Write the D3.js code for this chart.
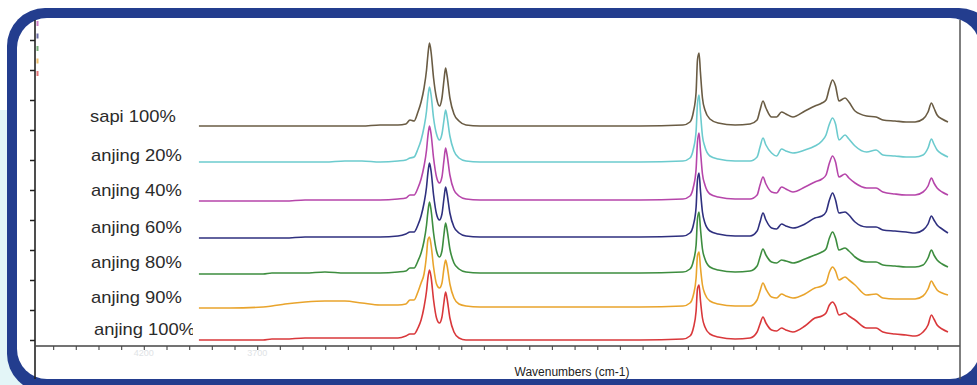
<!DOCTYPE html>
<html><head><meta charset="utf-8">
<script src="https://cdn.jsdelivr.net/npm/d3@7"></script>
<style>html,body{margin:0;padding:0;background:#fff;overflow:hidden}</style>
</head><body><svg id="c" width="977" height="385"></svg>
<script>
// ---- data (wavenumber in cm-1, absorbance offset in arbitrary units) ----
const wavenumbers = [3957, 3820, 3674, 3635, 3577, 3489, 3401, 3313, 3238, 3158, 3079,
  3044, 3026, 3008, 2991, 2977, 2964, 2953, 2947, 2940, 2933,
  2922, 2909, 2896, 2885, 2876, 2869, 2863, 2850, 2832, 2810,
  2779, 2717, 2408, 2012, 1822, 1791, 1776, 1764, 1758, 1751,
  1745, 1736, 1725, 1703, 1667, 1592, 1526, 1495, 1482, 1469,
  1456, 1431, 1409, 1387, 1368, 1337, 1284, 1240, 1209, 1191,
  1176, 1162, 1149, 1134, 1107, 1090, 1063, 1012, 970, 940,
  887, 838, 798, 763, 741, 726, 715, 701, 679, 653];

const seriesNames = ["sapi 100%", "anjing 20%", "anjing 40%", "anjing 60%", "anjing 80%", "anjing 90%", "anjing 100%"];

const sapi100 = [214, 214, 214, 214, 214, 214, 214, 214, 214, 215, 215,
  216, 220, 219, 228, 238, 252, 270, 285, 297, 288,
  262, 242, 234, 242, 260, 272, 265, 242, 226, 219,
  215, 214, 214, 214, 215, 218, 228, 248, 280, 287,
  268, 242, 230, 221, 217, 215, 216, 220, 230, 239,
  232, 223, 223, 228, 226, 223, 229, 234, 237, 240,
  252, 260, 254, 239, 242, 238, 229, 224, 223, 220,
  219, 218, 218, 221, 228, 237, 232, 225, 221, 218];
const anjing20 = [178, 178, 178, 178, 178, 178, 178, 179, 179, 178, 179,
  180, 182, 183, 191, 200, 213, 229, 243, 253, 245,
  222, 206, 200, 206, 220, 230, 224, 204, 189, 182,
  179, 178, 178, 178, 179, 182, 191, 209, 236, 245,
  228, 204, 193, 184, 181, 179, 179, 183, 193, 202,
  195, 187, 184, 191, 189, 187, 190, 194, 199, 205,
  216, 222, 216, 200, 205, 201, 194, 188, 190, 185,
  184, 183, 183, 185, 192, 201, 196, 190, 186, 183];
const anjing40 = [139, 139, 139, 139, 139, 140, 140, 140, 140, 140, 141,
  142, 145, 145, 152, 161, 174, 190, 204, 214, 206,
  182, 163, 157, 163, 180, 192, 186, 165, 150, 144,
  141, 140, 140, 140, 141, 144, 153, 171, 198, 207,
  190, 166, 155, 146, 143, 141, 141, 145, 155, 163,
  156, 148, 147, 153, 151, 148, 153, 158, 161, 165,
  177, 184, 178, 163, 166, 162, 157, 152, 152, 148,
  146, 145, 145, 148, 154, 162, 157, 152, 148, 145];
const anjing60 = [102, 102, 102, 102, 102, 103, 103, 103, 103, 103, 104,
  106, 108, 108, 115, 124, 137, 153, 167, 177, 169,
  145, 126, 120, 126, 142, 153, 147, 127, 113, 107,
  104, 103, 103, 103, 104, 107, 115, 133, 160, 167,
  150, 128, 117, 109, 106, 104, 104, 109, 118, 127,
  120, 112, 111, 116, 114, 112, 116, 122, 124, 128,
  140, 147, 140, 127, 128, 125, 118, 113, 113, 110,
  109, 108, 107, 110, 116, 124, 120, 115, 111, 107];
const anjing80 = [66, 66, 66, 67, 67, 67, 68, 67, 67, 67, 68,
  69, 72, 72, 79, 87, 99, 115, 128, 138, 130,
  107, 89, 83, 89, 106, 117, 111, 91, 77, 71,
  68, 67, 67, 67, 68, 71, 79, 95, 121, 128,
  112, 91, 81, 73, 70, 68, 69, 74, 83, 91,
  85, 78, 77, 80, 79, 77, 81, 85, 88, 91,
  102, 108, 102, 90, 92, 89, 83, 78, 78, 75,
  74, 73, 73, 75, 82, 90, 85, 80, 76, 73];
const anjing90 = [32, 32, 33, 34, 36, 38, 39, 39, 37, 35, 35,
  36, 40, 40, 48, 57, 66, 85, 100, 103, 95,
  73, 56, 52, 57, 72, 80, 75, 56, 42, 36,
  34, 33, 33, 33, 34, 37, 45, 62, 84, 88,
  73, 55, 46, 39, 36, 34, 34, 40, 49, 57,
  51, 43, 42, 46, 44, 42, 46, 52, 54, 57,
  68, 73, 69, 60, 63, 60, 55, 45, 46, 42,
  41, 41, 41, 44, 51, 59, 55, 50, 47, 45];
const anjing100 = [0, 0, 0, 1, 1, 2, 2, 2, 2, 2, 2,
  4, 6, 6, 12, 20, 33, 49, 62, 70, 63,
  40, 22, 17, 23, 38, 48, 42, 22, 8, 2,
  0, 0, 0, 0, 1, 4, 12, 29, 51, 55,
  40, 22, 13, 6, 3, 1, 2, 8, 16, 23,
  17, 10, 9, 12, 10, 8, 14, 22, 24, 27,
  35, 38, 34, 25, 27, 24, 20, 12, 12, 8,
  6, 5, 4, 8, 15, 25, 21, 15, 11, 8];

const seriesValues = [sapi100, anjing20, anjing40, anjing60, anjing80, anjing90, anjing100];
const yTickValues = [0, 30, 60, 90, 120, 150, 180, 210, 240, 270, 300];
const xTickValues = d3.range(4600, 699, -100);
const faintXLabels = [4200, 3700];
const axisTitle = "Wavenumbers (cm-1)";

// ---- styles ----
const colors = ["#6a5c44", "#6ccbce", "#b646aa", "#2f307f", "#3d8d3f", "#e9a42c", "#d9383b"];
const labelOffsets = [-4, -1, -5, -5, -6, -5, -5];

const svg = d3.select("#c");
const W = 977, H = 385;

// background & frame
svg.append("rect").attr("width", W).attr("height", H).attr("fill", "#ffffff");
svg.append("rect").attr("x", 0).attr("y", 110).attr("width", 12).attr("height", H - 110).attr("fill", "#e3f5f7");
svg.append("rect").attr("x", 0).attr("y", 360).attr("width", 60).attr("height", 25).attr("fill", "#e3f5f7");
svg.append("rect").attr("x", 7).attr("y", 8).attr("width", 990).attr("height", 384).attr("rx", 38).attr("fill", "#233d8e");
svg.append("rect").attr("x", 17).attr("y", 18).attr("width", 963).attr("height", 361).attr("rx", 30).attr("fill", "#ffffff");

const x = d3.scaleLinear().domain([4680, 600]).range([35, 960]);
const y = d3.scaleLinear().domain([-6, 320]).range([346, 20]);

// axes
const gx = svg.append("g").attr("transform", "translate(0,346)")
  .call(d3.axisBottom(x).tickValues(xTickValues).tickSize(4).tickFormat(""));
gx.select(".domain").remove();
gx.selectAll(".tick line").attr("stroke", "#555").attr("stroke-width", 1.2);

const gy = svg.append("g").attr("transform", "translate(35,0)")
  .call(d3.axisLeft(y).tickValues(yTickValues).tickSize(5).tickFormat(""));
gy.select(".domain").remove();
gy.selectAll(".tick line").attr("stroke", "#222").attr("stroke-width", 1.5);

// frame lines
svg.append("line").attr("x1", 35).attr("x2", 35).attr("y1", 20).attr("y2", 379).attr("stroke", "#222").attr("stroke-width", 1.6);
svg.append("line").attr("x1", 35).attr("x2", 960).attr("y1", 346).attr("y2", 346).attr("stroke", "#444").attr("stroke-width", 1.6);
svg.append("line").attr("x1", 960).attr("x2", 960).attr("y1", 20).attr("y2", 379).attr("stroke", "#555").attr("stroke-width", 1.5);

// faint original tick labels
svg.selectAll("text.faint").data(faintXLabels).join("text")
  .attr("class", "faint")
  .attr("x", d => x(d)).attr("y", 356)
  .attr("text-anchor", "middle")
  .attr("font-family", "Liberation Sans, Arial, sans-serif")
  .attr("font-size", 9).attr("fill", "#e0e3e6")
  .text(d => d);

// tiny legend remnants near top-left
[2, 3, 4, 5, 6].forEach((k, i) => {
  svg.append("rect").attr("x", 36.5).attr("y", 21 + i * 12.5).attr("width", 2).attr("height", 5)
    .attr("fill", colors[k]).attr("opacity", 0.7);
});

// spectra
const line = d3.line()
  .x((d, i) => x(wavenumbers[i]))
  .y(d => y(d))
  .curve(d3.curveMonotoneX);

svg.append("g").selectAll("path").data(seriesValues).join("path")
  .attr("d", d => line(d))
  .attr("fill", "none")
  .attr("stroke", (d, i) => colors[i])
  .attr("stroke-width", 1.6)
  .attr("stroke-linejoin", "round");

// labels
svg.append("defs").append("clipPath").attr("id", "lblclip")
  .append("rect").attr("x", 40).attr("y", 20).attr("width", 153).attr("height", 330);

const labelG = svg.append("g").attr("clip-path", "url(#lblclip)");
const lbl = labelG.selectAll("text").data(seriesNames).join("text")
  .attr("x", (d, i) => i === 0 ? 90 : (i === 6 ? 94 : 91))
  .attr("y", (d, i) => y(seriesValues[i][0]) + labelOffsets[i])
  .attr("font-family", "Liberation Sans, Arial, sans-serif")
  .attr("font-size", 17)
  .attr("fill", "#2b2b2b")
  .text(d => d);
lbl.each(function() {
  const len = this.getComputedTextLength();
  d3.select(this).attr("textLength", len * 1.08).attr("lengthAdjust", "spacingAndGlyphs");
});

// axis title
svg.append("text")
  .attr("x", 572).attr("y", 376)
  .attr("text-anchor", "middle")
  .attr("font-family", "Liberation Sans, Arial, sans-serif")
  .attr("font-size", 12)
  .attr("fill", "#222")
  .text(axisTitle);
</script></body></html>
